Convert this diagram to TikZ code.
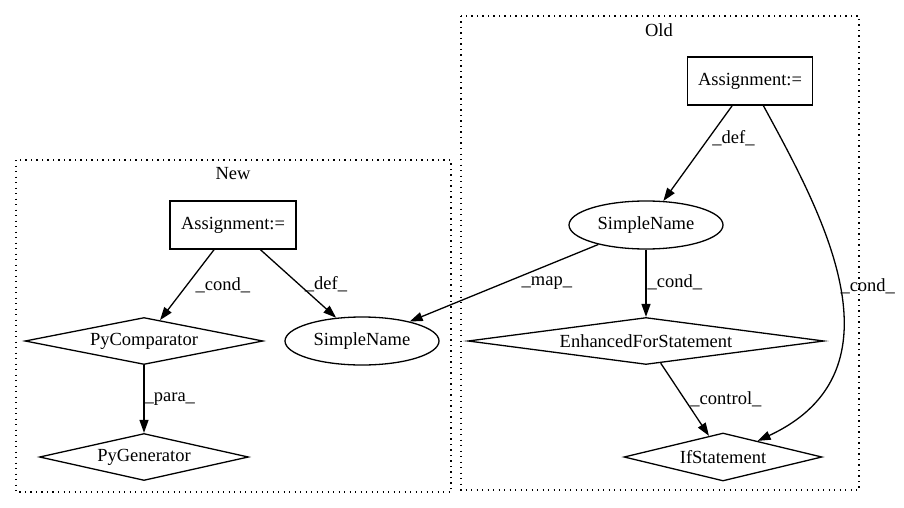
\documentclass[tikz,border=0pt]{standalone}
\usepackage{fontspec}
\setmainfont{Liberation Serif}
\usetikzlibrary{arrows.meta,shapes.geometric,positioning}

\begin{document}
\begin{tikzpicture}[x=1pt,y=-1pt,->,>={Triangle[length=13pt,width=9pt]},
                    line width=1.3pt,font=\fontsize{18.5}{22}\selectfont,
                    box node/.style={rectangle,draw,minimum width=125pt,minimum height=48pt,inner sep=0pt},
                    name node/.style={ellipse,draw,minimum width=154pt,minimum height=48pt,inner sep=0pt},
                    stmt node/.style={diamond,draw,aspect=5.5,inner sep=0pt},
                    cluster/.style={draw,-,dash pattern=on 1.3pt off 4.2pt}]
\useasboundingbox (0,0) rectangle (904,508);

% clusters
\draw[cluster] (461,16) rectangle (859,490);
\node (oldlabel) at (659,30) {Old};
\draw[cluster] (16,160) rectangle (451,492);
\node (newlabel) at (233,174) {New};

\node[box node] (oldassign) at (750,81) {Assignment:=};
\node[name node] (oldname) at (646,225) {SimpleName};
\node[stmt node,minimum width=356pt,minimum height=47pt] (forstmt) at (646,341) {EnhancedForStatement};
\node[stmt node,minimum width=198pt,minimum height=48pt] (ifstmt) at (723,457) {IfStatement};
\node[box node,minimum width=126pt] (newassign) at (233,225) {Assignment:=};
\node[stmt node,minimum width=238pt,minimum height=47pt] (comparator) at (144,341) {PyComparator};
\node[name node] (newname) at (362,341) {SimpleName};
\node[stmt node,minimum width=209pt,minimum height=47pt] (generator) at (144,457) {PyGenerator};

\path[every node/.style={inner sep=1pt}]

(newassign) edge node[pos=.5,right=7pt] {\_cond\_} (comparator)
edge node[pos=.5,right=5pt] {\_def\_} (newname)
(comparator) edge node[pos=.5,right=-1pt] {\_para\_} (generator)
(oldassign) edge node[pos=.34,right=2pt] {\_def\_} (oldname)
(oldname) edge node[pos=.5,right=16pt] {\_map\_} (newname)
edge node[pos=.49,right=0pt] {\_cond\_} (forstmt)
(forstmt) edge node[pos=.5,right=4pt] {\_control\_} (ifstmt)
;
\draw (oldassign) .. controls (820,210) and (910,370) .. (ifstmt)
      node[pos=.5,right=0pt,inner sep=1pt] {\_cond\_};

\end{tikzpicture}
\end{document}
